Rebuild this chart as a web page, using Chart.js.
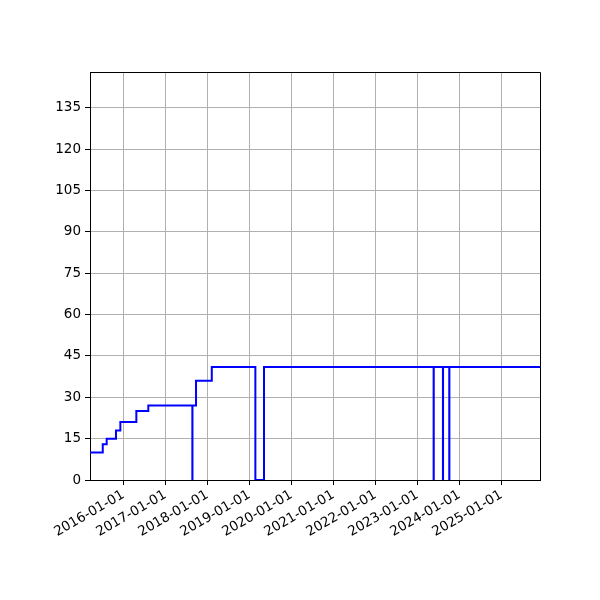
<!DOCTYPE html>
<html>
<head>
<meta charset="utf-8">
<script src="https://cdn.jsdelivr.net/npm/chart.js@4.4.1/dist/chart.umd.min.js"></script>
<style>
  html, body { margin: 0; padding: 0; background: #fff; }
  #wrap { width: 600px; height: 600px; }
</style>
</head>
<body>
<div id="wrap"><canvas id="grafica" width="600" height="600"></canvas></div>
<script>
// fechas de cada cambio de nivel (el valor se mantiene hasta la siguiente fecha)
const fechas = ['2015-03-17', '2015-07-06', '2015-08-09', '2015-10-29', '2015-12-06',
    '2016-04-23', '2016-08-05', '2017-08-23', '2017-08-24', '2017-09-24',
    '2018-02-08', '2019-02-22', '2019-05-08', '2023-05-22', '2023-05-23',
    '2023-08-11', '2023-08-12', '2023-10-05', '2023-10-06', '2025-12-02'];
const valores = [10, 13, 15, 18, 21, 25, 27, 0, 27, 36, 41, 0, 41, 0, 41, 0, 41, 0, 41, 41];

// etiquetas de los ejes
const anosTicks = [2016, 2017, 2018, 2019, 2020, 2021, 2022, 2023, 2024, 2025];
const yTicks = [0, 15, 30, 45, 60, 75, 90, 105, 120, 135];
const yMax = 148;

const aMs = f => Date.parse(f + 'T00:00:00Z');
const puntos = fechas.map((f, i) => ({ x: aMs(f), y: valores[i] }));

const formatoFecha = v => {
    const d = new Date(v);
    const mm = String(d.getUTCMonth() + 1).padStart(2, '0');
    const dd = String(d.getUTCDate()).padStart(2, '0');
    return d.getUTCFullYear() + '-' + mm + '-' + dd;
};

// marco superior y derecho (como matplotlib)
const marco = {
    id: 'marco',
    afterDatasetsDraw(chart) {
        const a = chart.chartArea;
        const ctx = chart.ctx;
        ctx.save();
        ctx.strokeStyle = '#000';
        ctx.lineWidth = 1;
        ctx.beginPath();
        ctx.moveTo(Math.round(a.left), Math.round(a.top) + 0.5);
        ctx.lineTo(Math.round(a.right) + 0.5, Math.round(a.top) + 0.5);
        ctx.lineTo(Math.round(a.right) + 0.5, Math.round(a.bottom));
        ctx.stroke();
        ctx.restore();
    }
};

Chart.defaults.font.family = '"DejaVu Sans", sans-serif';
Chart.defaults.font.size = 13.5;
Chart.defaults.color = '#000';

const ctx = document.getElementById('grafica').getContext('2d');
new Chart(ctx, {
    type: 'line',
    data: {
        datasets: [{
            data: puntos,
            borderColor: '#0000ff',
            borderWidth: 2,
            pointRadius: 0,
            stepped: 'before',
            fill: false
        }]
    },
    options: {
        responsive: false,
        animation: false,
        devicePixelRatio: 1,
        layout: { padding: { top: 72, right: 60, left: 0, bottom: 0 } },
        plugins: {
            legend: { display: false },
            tooltip: { enabled: false }
        },
        scales: {
            x: {
                type: 'linear',
                min: aMs(fechas[0]),
                max: aMs(fechas[fechas.length - 1]),
                afterBuildTicks: s => { s.ticks = anosTicks.map(a => ({ value: aMs(a + '-01-01') })); },
                afterFit: s => { s.height = 120; },
                ticks: {
                    callback: v => formatoFecha(v),
                    minRotation: 30,
                    maxRotation: 30,
                    padding: 2,
                    autoSkip: false
                },
                grid: { color: '#b0b0b0', lineWidth: 1, tickColor: '#000', tickLength: 5 },
                border: { color: '#000', width: 1 }
            },
            y: {
                min: 0,
                max: yMax,
                afterBuildTicks: s => { s.ticks = yTicks.map(v => ({ value: v })); },
                afterFit: s => { s.width = 90; },
                ticks: { padding: 4 },
                grid: { color: '#b0b0b0', lineWidth: 1, tickColor: '#000', tickLength: 5 },
                border: { color: '#000', width: 1 }
            }
        }
    },
    plugins: [marco]
});
</script>
</body>
</html>
